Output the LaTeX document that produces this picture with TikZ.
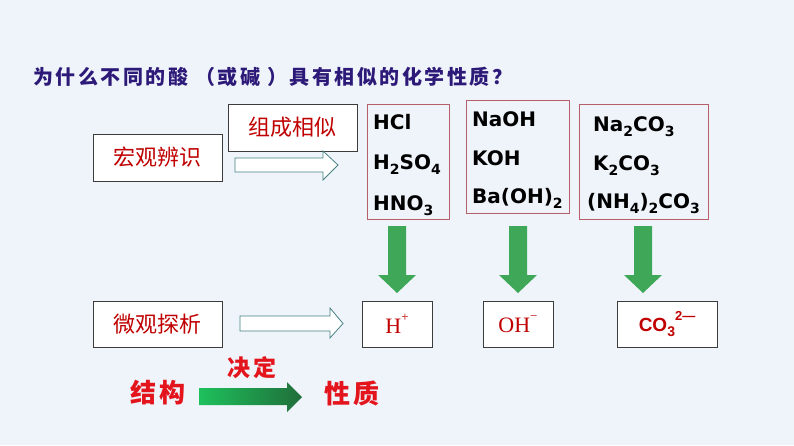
\documentclass[tikz,border=0pt]{standalone}
\usepackage{fontspec}
\setmainfont{DejaVu Sans}
\newfontfamily\cjk{Noto Sans CJK SC}
\newfontfamily\cjkt[LetterSpace=12.5]{Noto Sans CJK SC}
\newfontfamily\cjkw[LetterSpace=14]{Noto Sans CJK SC}
\newfontfamily\serifx{Liberation Serif}
\newfontfamily\arialx{Liberation Sans}
\definecolor{bgc}{RGB}{238,244,250}
\definecolor{titlec}{RGB}{45,25,120}
\definecolor{boxred}{RGB}{192,0,0}
\definecolor{brightred}{RGB}{228,20,28}
\definecolor{fborder}{RGB}{180,95,105}
\definecolor{lborder}{RGB}{60,60,60}
\definecolor{hollowc}{RGB}{70,130,130}
\definecolor{greenc}{RGB}{63,168,88}
\definecolor{gleft}{RGB}{30,192,92}
\definecolor{gright}{RGB}{32,110,58}
\newcommand\chsb[1]{\raisebox{-0.25em}{\fontsize{14}{14}\selectfont #1}}
\newcommand\chsp[1]{\raisebox{0.55em}{\fontsize{13}{13}\selectfont #1}}
\tikzset{
  lbox/.style={draw=lborder, line width=0.9pt, fill=white, inner sep=0pt},
  fbox/.style={draw=fborder, line width=0.9pt, inner sep=0pt},
  boxtext/.style={text=boxred, font=\cjk\fontsize{22}{22}\selectfont},
  formula/.style={anchor=base west, inner sep=0pt, font=\bfseries\fontsize{20}{20}\selectfont},
  harrow/.style={draw=hollowc, line width=0.8pt, fill=white},
  garrow/.style={fill=greenc},
  bigred/.style={text=brightred, font=\cjkw\bfseries\fontsize{26}{26}\selectfont},
}
\begin{document}
\begin{tikzpicture}[x=1pt,y=-1pt]
\fill[bgc] (0,0) rectangle (794,445);
\useasboundingbox (0,0) rectangle (794,445);

% title
\node[anchor=west, inner sep=0pt, text=titlec, font=\cjkt\bfseries\fontsize{20}{20}\selectfont] (title) at (33,77) {为什么不同的酸 （或碱 ）具有相似的化学性质？};

% left boxes
\node[lbox, minimum width=129pt, minimum height=47pt] (hg) at (157.5,157.5) {};
\node[boxtext] (hgt) at (hg.center) {宏观辨识};
\node[lbox, minimum width=129pt, minimum height=47pt] (zc) at (292.5,127.5) {};
\node[boxtext] (zct) at (zc.center) {组成相似};
\node[lbox, minimum width=129pt, minimum height=46pt] (wg) at (157.5,324) {};
\node[boxtext] (wgt) at (wg.center) {微观探析};

% formula boxes
\node[fbox, minimum width=82pt, minimum height=115pt] (acid) at (408,161.5) {};
\node[fbox, minimum width=103pt, minimum height=113pt] (base) at (517.5,156.5) {};
\node[fbox, minimum width=129pt, minimum height=115pt] (salt) at (643.5,161.5) {};

\node[formula] (f1) at (373,129) {HCl};
\node[formula] (f2) at (373,169) {H\chsb{2}SO\chsb{4}};
\node[formula] (f3) at (373,210) {HNO\chsb{3}};
\node[formula] (f4) at (472,126) {NaOH};
\node[formula] (f5) at (472,165) {KOH};
\node[formula] (f6) at (472,203) {Ba(OH)\chsb{2}};
\node[formula] (f7) at (593,131) {Na\chsb{2}CO\chsb{3}};
\node[formula] (f8) at (593,170) {K\chsb{2}CO\chsb{3}};
\node[formula] (f9) at (587,208) {(NH\chsb{4})\chsb{2}CO\chsb{3}};

% ion boxes
\node[lbox, minimum width=70pt, minimum height=46pt] (hion) at (397,324) {};
\node[text=boxred, font=\serifx\fontsize{22}{22}\selectfont] (hiont) at (hion.center) {H\chsp{+}};
\node[lbox, minimum width=70pt, minimum height=46pt] (ohion) at (518,324) {};
\node[text=boxred, font=\serifx\fontsize{22}{22}\selectfont] (ohiont) at (ohion.center) {OH\chsp{−}};
\node[lbox, minimum width=100pt, minimum height=46pt] (co3) at (667,324) {};
\node[text=boxred, font=\arialx\bfseries\fontsize{19}{19}\selectfont] (co3t) at (co3.center) {CO\chsb{3}\chsp{2—}};

% hollow arrows
\draw[harrow] (235,158) -- (323,158) -- (323,151) -- (338,165) -- (323,180) -- (323,172) -- (235,172) -- cycle;
\draw[harrow] (240,316) -- (330,316) -- (330,308) -- (343,323.5) -- (330,338) -- (330,331) -- (240,331) -- cycle;

% green down arrows
\foreach \cx in {397,518,643}{
  \fill[garrow] ({\cx-9},226) -- ({\cx+9},226) -- ({\cx+9},275) -- ({\cx+19},275) -- (\cx,293) -- ({\cx-19},275) -- ({\cx-9},275) -- cycle;
}

% bottom
\node[bigred] (jg) at (158,393) {结构};
\node[bigred] (xz) at (352,393) {性质};
\node[text=brightred, font=\cjkw\bfseries\fontsize{23}{23}\selectfont] (jd) at (252,368) {决定};
\shade[left color=gleft, right color=gright] (199,388) -- (287,388) -- (287,382) -- (302,397) -- (287,412) -- (287,405) -- (199,405) -- cycle;
\end{tikzpicture}
\end{document}
